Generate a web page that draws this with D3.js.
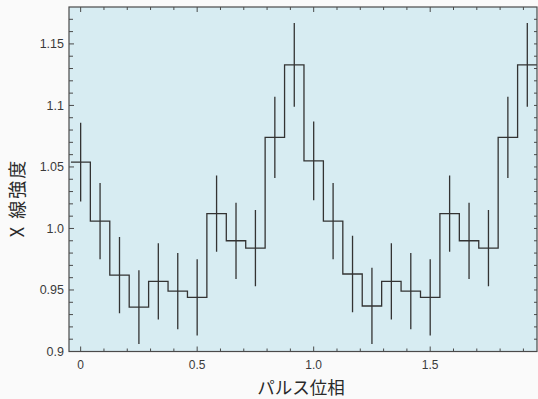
<!DOCTYPE html>
<html>
<head>
<meta charset="utf-8">
<script src="https://cdn.jsdelivr.net/npm/d3@7"></script>
<style>
  html, body { margin: 0; padding: 0; background: #fafafa; }
  svg { display: block; }
</style>
</head>
<body>
<div id="chart"></div>
<script>
// pulse phase (bin centres, 12 bins per cycle, two cycles shown)
const phases = [0, 0.0833, 0.1667, 0.25, 0.3333, 0.4167, 0.5, 0.5833, 0.6667, 0.75, 0.8333, 0.9167,
                1.0, 1.0833, 1.1667, 1.25, 1.3333, 1.4167, 1.5, 1.5833, 1.6667, 1.75, 1.8333, 1.9167];
const intensity = [1.054, 1.006, 0.962, 0.936, 0.957, 0.949, 0.944, 1.012, 0.990, 0.984, 1.074, 1.133,
                   1.055, 1.006, 0.963, 0.937, 0.957, 0.949, 0.944, 1.012, 0.990, 0.984, 1.074, 1.133];
const errors = [0.032, 0.031, 0.031, 0.030, 0.031, 0.031, 0.031, 0.031, 0.031, 0.031, 0.033, 0.034,
                0.032, 0.031, 0.031, 0.031, 0.031, 0.031, 0.031, 0.031, 0.031, 0.031, 0.033, 0.034];
const binWidth = 1 / 12;

const xTickLabels = ["0", "0.5", "1.0", "1.5"];
const yTickLabels = ["0.9", "0.95", "1.0", "1.05", "1.1", "1.15"];

const width = 538, height = 399;
const plotLeft = 69, plotRight = 537, plotTop = 7, plotBottom = 351.5;

const x = d3.scaleLinear().domain([-0.05, 1.9583]).range([plotLeft, plotRight]);
const y = d3.scaleLinear().domain([0.9, 1.18]).range([plotBottom, plotTop]);

const svg = d3.select("#chart").append("svg")
    .attr("width", width)
    .attr("height", height);

svg.append("defs").append("clipPath")
    .attr("id", "plotClip")
    .append("rect")
    .attr("x", plotLeft).attr("y", plotTop)
    .attr("width", plotRight - plotLeft).attr("height", plotBottom - plotTop);

svg.append("rect")
    .attr("x", plotLeft).attr("y", plotTop)
    .attr("width", plotRight - plotLeft).attr("height", plotBottom - plotTop)
    .attr("fill", "#d7ecf2");

const frameColor = "#4a4a4a";
const textColor = "#3a3a3a";

// ticks: minor every 0.1 in phase, every 0.01 in intensity
const xMinor = d3.range(0, 1.96, 0.1).map(d => +d.toFixed(2));
const xMajor = xTickLabels.map(Number);
const yMinor = d3.range(0.91, 1.18, 0.01).map(d => +d.toFixed(2));
const yMajor = yTickLabels.map(Number);

const ticks = svg.append("g")
    .attr("stroke", frameColor)
    .attr("stroke-width", 1);

xMinor.forEach(function(d) {
    const len = xMajor.some(m => Math.abs(m - d) < 1e-6) ? 5 : 3;
    ticks.append("line").attr("x1", x(d)).attr("x2", x(d)).attr("y1", plotBottom).attr("y2", plotBottom - len);
    ticks.append("line").attr("x1", x(d)).attr("x2", x(d)).attr("y1", plotTop).attr("y2", plotTop + len);
});
yMinor.forEach(function(d) {
    const len = yMajor.some(m => Math.abs(m - d) < 1e-6) ? 5 : 4;
    ticks.append("line").attr("x1", plotLeft).attr("x2", plotLeft + len).attr("y1", y(d)).attr("y2", y(d));
    ticks.append("line").attr("x1", plotRight).attr("x2", plotRight - 3).attr("y1", y(d)).attr("y2", y(d));
});

// step line through bin edges
const stepPoints = phases.map((p, i) => [p - binWidth / 2, intensity[i]]);
stepPoints.push([phases[phases.length - 1] + binWidth / 2, intensity[intensity.length - 1]]);

const step = d3.line()
    .x(d => x(d[0]))
    .y(d => y(d[1]))
    .curve(d3.curveStepAfter);

const plot = svg.append("g").attr("clip-path", "url(#plotClip)");

plot.append("path")
    .datum(stepPoints)
    .attr("d", step)
    .attr("fill", "none")
    .attr("stroke", "#333")
    .attr("stroke-width", 1.3);

plot.selectAll(".err")
    .data(phases)
    .enter().append("line")
    .attr("class", "err")
    .attr("x1", d => x(d))
    .attr("x2", d => x(d))
    .attr("y1", (d, i) => y(intensity[i] + errors[i]))
    .attr("y2", (d, i) => y(intensity[i] - errors[i]))
    .attr("stroke", "#333")
    .attr("stroke-width", 1.3);

// frame
svg.append("rect")
    .attr("x", plotLeft).attr("y", plotTop)
    .attr("width", plotRight - plotLeft).attr("height", plotBottom - plotTop)
    .attr("fill", "none")
    .attr("stroke", frameColor)
    .attr("stroke-width", 1.2);

// tick labels
svg.append("g").selectAll("text")
    .data(xTickLabels)
    .enter().append("text")
    .attr("x", d => x(+d))
    .attr("y", 369)
    .attr("text-anchor", "middle")
    .attr("font-family", "Liberation Sans, Arial, sans-serif")
    .attr("font-size", 12)
    .attr("fill", textColor)
    .text(d => d);

svg.append("g").selectAll("text")
    .data(yTickLabels)
    .enter().append("text")
    .attr("x", 64)
    .attr("y", d => y(+d))
    .attr("dy", "0.35em")
    .attr("text-anchor", "end")
    .attr("font-family", "Liberation Sans, Arial, sans-serif")
    .attr("font-size", 12.5)
    .attr("fill", textColor)
    .text(d => d);

// axis titles
svg.append("text")
    .attr("x", 301)
    .attr("y", 394)
    .attr("text-anchor", "middle")
    .attr("font-family", "Noto Sans CJK JP, sans-serif")
    .attr("font-size", 17.5)
    .attr("fill", "#2a2a2a")
    .text("パルス位相");

svg.append("text")
    .attr("transform", "translate(24,198) rotate(-90)")
    .attr("text-anchor", "middle")
    .attr("font-family", "Noto Sans CJK JP, sans-serif")
    .attr("font-size", 18)
    .attr("letter-spacing", 2)
    .attr("fill", "#2a2a2a")
    .text("X 線強度");
</script>
</body>
</html>
